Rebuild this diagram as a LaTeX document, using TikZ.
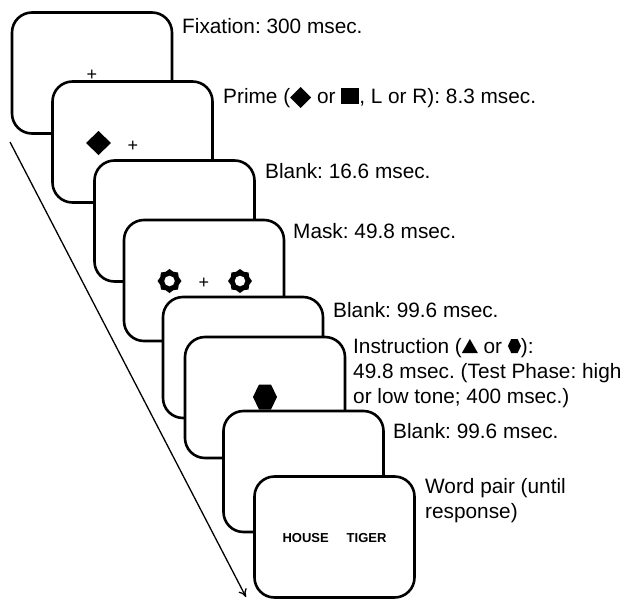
\documentclass[tikz,border=0pt]{standalone}
\usepackage{fontspec}
\setmainfont{Liberation Sans}
\frenchspacing
\usetikzlibrary{shapes.geometric,arrows.meta}
\newcommand{\symDia}{\tikz[baseline=0pt]{\fill (0pt,-5pt) -- (10.5pt,5.5pt) -- (0pt,16pt) -- (-10.5pt,5.5pt) -- cycle;}}
\newcommand{\symSq}{\tikz[baseline=0pt]{\fill (0pt,-1pt) rectangle (18pt,15pt);}}
\newcommand{\symTri}{\tikz[baseline=0pt]{\fill (0pt,0pt) -- (16pt,0pt) -- (8pt,14pt) -- cycle;}}
\newcommand{\symHex}{\tikz[baseline=0pt]{\fill (0pt,7pt) -- (3.3pt,14pt) -- (9.7pt,14pt) -- (13pt,7pt) -- (9.7pt,0pt) -- (3.3pt,0pt) -- cycle;}}
\begin{document}
\begin{tikzpicture}[x=1pt,y=-1pt,
  screen/.style={draw=black, fill=white, line width=2.6pt, rounded corners=20pt,
    minimum width=160pt, minimum height=121pt, inner sep=0pt},
  label/.style={anchor=base west, inner sep=0pt, align=left,
    font=\fontsize{20.8pt}{25pt}\selectfont},
  plus/.style={inner sep=0pt, font=\fontsize{18pt}{20pt}\selectfont},
  maskstar/.style={star, star points=8, star point ratio=1.2, minimum size=24pt,
    fill=black, inner sep=0pt},
  hole/.style={circle, fill=white, minimum size=10.5pt, inner sep=0pt}
]
\useasboundingbox (0,0) rectangle (630,600);

% time arrow
\coordinate (as) at (10,142);
\coordinate (ae) at (246,597);
\draw[line width=1.3pt, -{To[length=8pt,width=9pt]}] (as) -- (ae);

% screens
\node[screen] (s1) at (92,73) {};
\node[plus] (p1) at (92,75) {+};

\node[screen] (s2) at (132.5,142) {};
\node[inner sep=0pt] (dia) at (98.5,143) {\tikz{\fill (0pt,-12pt) -- (12.5pt,0pt) -- (0pt,12pt) -- (-12.5pt,0pt) -- cycle;}};
\node[plus] (p2) at (133,146) {+};

\node[screen] (s3) at (174.5,221) {};

\node[screen] (s4) at (204,280.5) {};
\node[maskstar] (m1) at (169.5,281) {};
\node[hole] at (m1.center) {};
\node[maskstar] (m2) at (240,281) {};
\node[hole] at (m2.center) {};
\node[plus] (p4) at (204,283) {+};

\node[screen] (s5) at (243,357.5) {};

\node[screen] (s6) at (265,397.5) {};
\node[inner sep=0pt] (hex) at (265,397) {\tikz{\fill (-12pt,0pt) -- (-6pt,12.5pt) -- (6pt,12.5pt) -- (12pt,0pt) -- (6pt,-12.5pt) -- (-6pt,-12.5pt) -- cycle;}};

\node[screen] (s7) at (303.5,471.5) {};

\node[screen] (s8) at (334.5,537) {};
\node[inner sep=0pt, font=\fontsize{13pt}{15pt}\selectfont\bfseries] (words) at (334.5,538) {HOUSE\hspace{18pt}TIGER};

% labels
\node[label] (l1) at (182,33) {Fixation: 300 msec.};
\node[label] (l2) at (223,103) {Prime (\symDia{} or \symSq, L or R): 8.3 msec.};
\node[label] (l3) at (265,178) {Blank: 16.6 msec.};
\node[label] (l4) at (293,238) {Mask: 49.8 msec.};
\node[label] (l5) at (333,317) {Blank: 99.6 msec.};
\node[label] (l6) at (353,403) {Instruction (\symTri{} or \symHex):\\49.8 msec. (Test Phase: high\\or low tone; 400 msec.)};
\node[label] (l7) at (393,438) {Blank: 99.6 msec.};
\node[label] (l8) at (425,518) {Word pair (until\\response)};
\end{tikzpicture}
\end{document}
